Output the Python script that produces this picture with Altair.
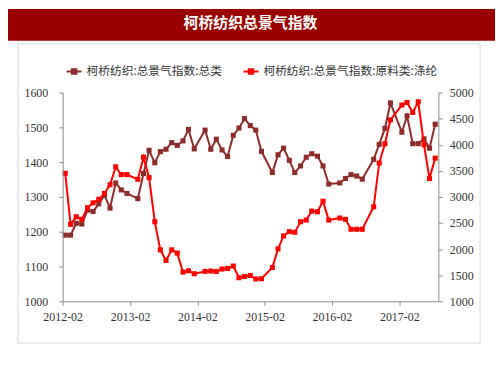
import altair as alt
import pandas as pd

TITLE = "柯桥纺织总景气指数"
SERIES_TOTAL = "柯桥纺织:总景气指数:总类"
SERIES_PET = "柯桥纺织:总景气指数:原料类:涤纶"

months = [
    "2012-02", "2012-03", "2012-04", "2012-05", "2012-06", "2012-07", "2012-08",
    "2012-09", "2012-10", "2012-11", "2012-12", "2013-01",
    "2013-03", "2013-04", "2013-05", "2013-06", "2013-07", "2013-08", "2013-09",
    "2013-10", "2013-11", "2013-12", "2014-01",
    "2014-03", "2014-04", "2014-05", "2014-06", "2014-07", "2014-08", "2014-09",
    "2014-10", "2014-11", "2014-12", "2015-01",
    "2015-03", "2015-04", "2015-05", "2015-06", "2015-07", "2015-08", "2015-09",
    "2015-10", "2015-11", "2015-12", "2016-01",
    "2016-03", "2016-04", "2016-05", "2016-06", "2016-07",
    "2016-09", "2016-10", "2016-11", "2016-12",
    "2017-02", "2017-03", "2017-04", "2017-05", "2017-06", "2017-07", "2017-08",
]

total_index = [
    1190, 1190, 1224, 1222, 1262, 1258, 1280, 1305, 1268, 1340, 1320, 1310,
    1295, 1367, 1434, 1398, 1430, 1437, 1456, 1448, 1461, 1494, 1438,
    1492, 1437, 1466, 1435, 1416, 1477, 1498, 1525, 1505, 1492, 1431,
    1370, 1421, 1440, 1405, 1370, 1389, 1414, 1424, 1417, 1389, 1337,
    1340, 1353, 1364, 1360, 1351,
    1408, 1451, 1497, 1570,
    1486, 1533, 1453, 1453, 1467, 1440, 1509,
]

polyester_index = [
    3452, 2474, 2619, 2570, 2795, 2886, 2953, 3065, 3233, 3576, 3427, 3427,
    3337, 3762, 3370, 2524, 1985, 1781, 1985, 1922, 1559, 1585, 1528,
    1572, 1579, 1572, 1617, 1629, 1674, 1451, 1476, 1495, 1427, 1432,
    1648, 2004, 2252, 2334, 2322, 2524, 2556, 2728, 2715, 2918, 2556,
    2595, 2570, 2379, 2379, 2379,
    2810, 3648, 4017, 4475,
    4760, 4810, 4620, 4823, 3999, 3351, 3743,
]

x_ticks = [2012, 2013, 2014, 2015, 2016, 2017]
left_ticks = [1000, 1100, 1200, 1300, 1400, 1500, 1600]
right_ticks = [1000, 1500, 2000, 2500, 3000, 3500, 4000, 4500, 5000]

DARK = "#8E2B2B"
RED = "#FF0000"
BAR = "#9B0000"
AXIS_GRAY = "#8C8C8C"
LABEL_COLOR = "#333333"
SERIF = "Liberation Serif"
CJK = "Noto Sans CJK SC"

rows = []
for m, a, b in zip(months, total_index, polyester_index):
    rows.append({"date": m + "-15", "series": SERIES_TOTAL, "value": a})
    rows.append({"date": m + "-15", "series": SERIES_PET, "value": b})
df = pd.DataFrame(rows)

W, H = 378, 210

x_enc = alt.X(
    "date:T",
    scale=alt.Scale(
        type="utc",
        domain=[alt.DateTime(year=2012, month=2, date=1, utc=True),
                alt.DateTime(year=2017, month=9, date=1, utc=True)],
    ),
    axis=alt.Axis(
        title=None,
        values=[alt.DateTime(year=y, month=2, date=1, utc=True) for y in x_ticks],
        labelExpr="utcFormat(datum.value, '%Y-%m')",
        labelFlush=False,
        labelOverlap=False,
        grid=False,
        domainColor=AXIS_GRAY,
        tickColor=AXIS_GRAY,
        tickSize=4,
        labelFont=SERIF,
        labelFontSize=12,
        labelColor=LABEL_COLOR,
        labelPadding=6,
        zindex=1,
    ),
)

color_enc = alt.Color(
    "series:N",
    scale=alt.Scale(domain=[SERIES_TOTAL, SERIES_PET], range=[DARK, RED]),
    legend=alt.Legend(
        title=None,
        orient="none",
        legendX=3,
        legendY=-30,
        direction="horizontal",
        symbolType="M-1,0L1,0M-0.3,-0.3L0.3,-0.3L0.3,0.3L-0.3,0.3Z",
        symbolSize=225,
        symbolStrokeWidth=2,
        labelFont=CJK,
        labelFontSize=11.8,
        labelColor=LABEL_COLOR,
        labelLimit=400,
        columnPadding=17,
        padding=0,
    ),
)

base = alt.Chart(df)

total_line = base.transform_filter(alt.datum.series == SERIES_TOTAL).mark_line(
    strokeWidth=2,
    point=alt.OverlayMarkDef(shape="square", size=26, filled=True, opacity=1),
).encode(
    x=x_enc,
    y=alt.Y(
        "value:Q",
        scale=alt.Scale(domain=[1000, 1600], nice=False, zero=False),
        axis=alt.Axis(
            title=None, orient="left", values=left_ticks, grid=False, format="d",
            domainColor=AXIS_GRAY, tickColor=AXIS_GRAY, tickSize=4,
            labelFont=SERIF, labelFontSize=12, labelColor=LABEL_COLOR,
            labelPadding=11, zindex=1,
        ),
    ),
    color=color_enc,
)

pet_line = base.transform_filter(alt.datum.series == SERIES_PET).mark_line(
    strokeWidth=2,
    point=alt.OverlayMarkDef(shape="square", size=26, filled=True, opacity=1),
).encode(
    x=x_enc,
    y=alt.Y(
        "value:Q",
        scale=alt.Scale(domain=[1000, 5000], nice=False, zero=False),
        axis=alt.Axis(
            title=None, orient="right", values=right_ticks, grid=False, format="d",
            domainColor=AXIS_GRAY, tickColor=AXIS_GRAY, tickSize=4,
            labelFont=SERIF, labelFontSize=12, labelColor=LABEL_COLOR,
            labelPadding=7, zindex=1,
        ),
    ),
    color=color_enc,
)

deco = alt.Chart(pd.DataFrame({"t": [TITLE]}))

panel = deco.mark_rect(fill="transparent", stroke="#D9D9D9", strokeWidth=1).encode(
    x=alt.value(-45), x2=alt.value(420), y=alt.value(-49), y2=alt.value(252)
)
title_bar = deco.mark_rect(fill=BAR).encode(
    x=alt.value(-55), x2=alt.value(435), y=alt.value(-84), y2=alt.value(-52)
)
title_text = deco.mark_text(
    font=CJK, fontSize=15, fontWeight="bold", color="white",
    align="center", baseline="middle",
).encode(x=alt.value(189), y=alt.value(-70), text="t:N")

chart = alt.layer(
    panel, title_bar, title_text, total_line, pet_line
).resolve_scale(y="independent").properties(
    width=W,
    height=H,
    autosize=alt.AutoSizeParams(type="none"),
    padding={"left": 55, "top": 84, "right": 57, "bottom": 50},
    background="white",
).configure_view(stroke=None)

chart.save("out.html", embed_options={"renderer": "svg", "actions": False})
